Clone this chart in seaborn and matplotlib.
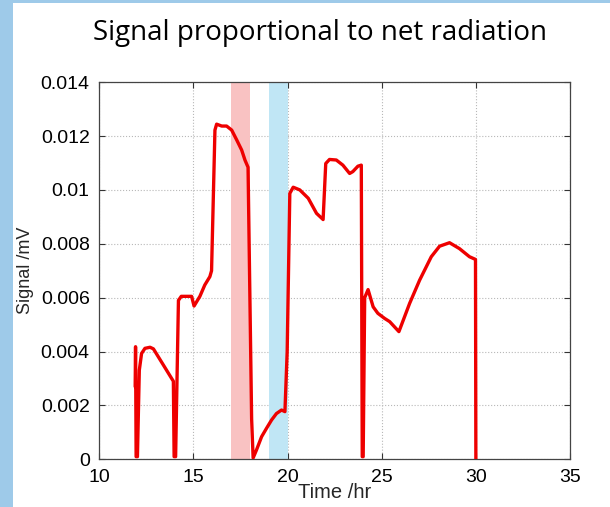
import matplotlib
matplotlib.use("Agg")
import matplotlib.pyplot as plt
from matplotlib.patches import Rectangle
import numpy as np
import pandas as pd
import seaborn as sns

# Net-radiometer signal over the measurement period
time_hr = [
    11.90, 11.92, 11.95, 12.02, 12.12, 12.24, 12.42, 12.69, 12.87, 13.40, 13.84, 13.93,
    13.97, 14.05, 14.20, 14.35, 14.90, 15.03, 15.34, 15.60, 15.87, 15.96, 16.14, 16.23,
    16.50, 16.76, 17.03, 17.30, 17.56, 17.74, 17.90, 18.09, 18.17, 18.35, 18.62, 18.88,
    19.15, 19.41, 19.68, 19.86, 19.98, 20.12, 20.30, 20.65, 21.10, 21.54, 21.89, 22.03,
    22.23, 22.59, 22.94, 23.30, 23.47, 23.74, 23.92, 23.97, 24.02, 24.10, 24.28, 24.55,
    24.80, 25.16, 25.43, 25.92, 26.49, 27.02, 27.64, 28.08, 28.61, 29.14, 29.67, 29.99,
    30.01,
]
signal_mv = [
    0.00270, 0.00418, 0.00010, 0.00010, 0.00331, 0.00393, 0.00412, 0.00416, 0.00410, 0.00350, 0.00300, 0.00290,
    0.00010, 0.00010, 0.00590, 0.00605, 0.00605, 0.00569, 0.00605, 0.00647, 0.00678, 0.00700, 0.01222, 0.01244,
    0.01237, 0.01237, 0.01222, 0.01185, 0.01148, 0.01110, 0.01084, 0.00150, 0.00005, 0.00035, 0.00084, 0.00115,
    0.00146, 0.00170, 0.00183, 0.00177, 0.00400, 0.00987, 0.01010, 0.01000, 0.00969, 0.00913, 0.00890, 0.01098,
    0.01113, 0.01111, 0.01092, 0.01061, 0.01068, 0.01088, 0.01092, 0.00010, 0.00010, 0.00600, 0.00630, 0.00566,
    0.00542, 0.00523, 0.00511, 0.00474, 0.00579, 0.00665, 0.00752, 0.00791, 0.00804, 0.00782, 0.00752, 0.00742,
    0.00000,
]

# Highlighted intervals (start, end) in hours
red_band = (17.0, 18.0)
blue_band = (19.0, 20.0)

x_ticks = [10, 15, 20, 25, 30, 35]
y_ticks = [0, 0.002, 0.004, 0.006, 0.008, 0.01, 0.012, 0.014]
y_tick_labels = ["0", "0.002", "0.004", "0.006", "0.008", "0.01", "0.012", "0.014"]

df = pd.DataFrame({"Time /hr": time_hr, "Signal /mV": signal_mv})

sns.set_theme(style="white")
plt.rcParams["font.family"] = ["Liberation Sans", "DejaVu Sans"]

fig = plt.figure(figsize=(6.10, 5.07), dpi=100)
fig.patch.set_facecolor("white")
# slide-style frame: blue strip along the left and top edges
fig.patches.append(Rectangle((0, 0), 13 / 610, 1, transform=fig.transFigure,
                             facecolor="#9ecae9", edgecolor="none", zorder=0))
fig.patches.append(Rectangle((0, 1 - 3 / 507), 1, 3 / 507, transform=fig.transFigure,
                             facecolor="#9ecae9", edgecolor="none", zorder=0))

ax = fig.add_axes([0.163, 0.094, 0.771, 0.744])

ax.axvspan(*red_band, color="#f9c2c2", lw=0, zorder=1)
ax.axvspan(*blue_band, color="#c0e6f5", lw=0, zorder=1)

sns.lineplot(data=df, x="Time /hr", y="Signal /mV", sort=False, estimator=None,
             color="#ee0000", lw=2.4, ax=ax, zorder=3)

ax.set_xlim(10, 35)
ax.set_ylim(0, 0.014)
ax.set_xticks(x_ticks)
ax.set_xticklabels([str(t) for t in x_ticks])
ax.set_yticks(y_ticks)
ax.set_yticklabels(y_tick_labels)
ax.grid(True, linestyle=":", color="#b8b8b8", lw=0.8, zorder=0)
ax.set_axisbelow(True)
ax.tick_params(direction="in", length=4, width=0.8, colors="#333333",
               labelcolor="black", labelsize=14, top=True, right=True,
               bottom=True, left=True)
ax.tick_params(axis="x", pad=7)
ax.tick_params(axis="y", pad=7)
for s in ax.spines.values():
    s.set_color("#444444")
    s.set_linewidth(0.9)

ax.set_xlabel("Time /hr", fontsize=14.5, va="center")
ax.set_ylabel("Signal /mV", fontsize=13, va="center")
ax.xaxis.set_label_coords(0.5, -0.089)
ax.yaxis.set_label_coords(-0.158, 0.5)

fig.text(0.525, 0.934, "Signal proportional to net radiation", ha="center", va="center",
         fontsize=20, family=["Open Sans", "DejaVu Sans"], color="black")

fig.savefig("out.png", dpi=100)
